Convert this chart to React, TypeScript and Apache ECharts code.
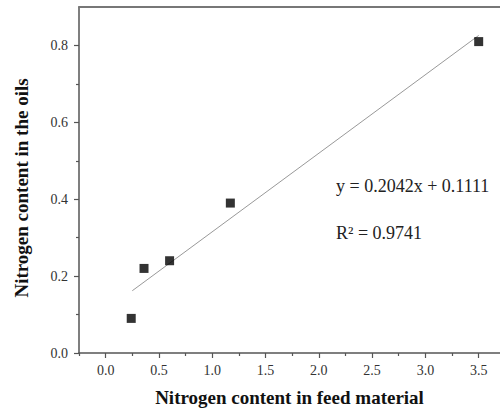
import React, { useEffect, useRef } from "react";
import * as echarts from "echarts";

const feedN = [0.24, 0.36, 0.6, 1.17, 3.5];
const oilN = [0.09, 0.22, 0.24, 0.39, 0.81];
const trendX = [0.25, 3.5];
const trendY = [0.162, 0.826];
const xMajor = [0, 0.5, 1, 1.5, 2, 2.5, 3, 3.5];
const xMinor = [-0.25, 0.25, 0.75, 1.25, 1.75, 2.25, 2.75, 3.25];
const yMajor = [0, 0.2, 0.4, 0.6, 0.8];
const yMinor = [0.1, 0.3, 0.5, 0.7];
const equationText = "y = 0.2042x + 0.1111";
const r2Text = "R\u00B2 = 0.9741";

const serif = "'Liberation Serif', 'Times New Roman', serif";
const axisColor = "#555";

export default function App() {
  const ref = useRef<HTMLDivElement>(null);
  useEffect(() => {
    if (!ref.current) return;
    const chart = echarts.init(ref.current, undefined, { renderer: "svg" });
    const xRange = { min: -0.25, max: 3.7 };
    const yRange = { min: 0, max: 0.9 };
    const tickLabel = (margin: number) => ({
      margin,
      fontFamily: serif,
      fontSize: 14,
      color: "#333",
      formatter: (v: number) => v.toFixed(1),
    });
    chart.setOption({
      animation: false,
      textStyle: { fontFamily: serif },
      grid: { left: 79, top: 7, right: 0, bottom: 60 },
      xAxis: [
        {
          type: "value",
          ...xRange,
          position: "bottom",
          name: "Nitrogen content in feed material",
          nameLocation: "middle",
          nameGap: 35,
          nameTextStyle: { fontFamily: serif, fontWeight: "bold", fontSize: 19, color: "#111" },
          axisLine: { show: true, onZero: false, lineStyle: { color: axisColor, width: 1.5 } },
          axisTick: { show: true, customValues: xMajor, length: 5, lineStyle: { color: axisColor, width: 1.2 } },
          axisLabel: { ...tickLabel(10), customValues: xMajor },
          splitLine: { show: false },
        },
        {
          type: "value",
          ...xRange,
          position: "bottom",
          axisLine: { show: false, onZero: false },
          axisTick: { show: true, customValues: xMinor, length: 3, lineStyle: { color: axisColor, width: 1.2 } },
          axisLabel: { show: false },
          splitLine: { show: false },
        },
        {
          type: "value",
          ...xRange,
          position: "top",
          axisLine: { show: true, onZero: false, lineStyle: { color: "#777", width: 2 } },
          axisTick: { show: false },
          axisLabel: { show: false },
          splitLine: { show: false },
        },
      ],
      yAxis: [
        {
          type: "value",
          ...yRange,
          position: "left",
          name: "Nitrogen content in the oils",
          nameLocation: "middle",
          nameGap: 48,
          nameTextStyle: {
            fontFamily: serif,
            fontWeight: "bold",
            fontSize: 19,
            color: "#111",
            padding: [0, 16, 0, 0],
          },
          axisLine: { show: true, onZero: false, lineStyle: { color: axisColor, width: 1.5 } },
          axisTick: { show: true, customValues: yMajor, length: 5, lineStyle: { color: axisColor, width: 1.2 } },
          axisLabel: { ...tickLabel(11), customValues: yMajor },
          splitLine: { show: false },
        },
        {
          type: "value",
          ...yRange,
          position: "left",
          axisLine: { show: false, onZero: false },
          axisTick: { show: true, customValues: yMinor, length: 3, lineStyle: { color: axisColor, width: 1.2 } },
          axisLabel: { show: false },
          splitLine: { show: false },
        },
      ],
      series: [
        {
          type: "line",
          data: trendX.map((x, i) => [x, trendY[i]]),
          showSymbol: false,
          symbol: "none",
          lineStyle: { color: "#999", width: 1 },
          silent: true,
          z: 1,
        },
        {
          type: "scatter",
          data: feedN.map((x, i) => [x, oilN[i]]),
          symbol: "rect",
          symbolSize: 9,
          itemStyle: { color: "#000" },
          z: 3,
        },
      ],
      graphic: [
        {
          type: "text",
          left: 336,
          top: 177,
          style: { text: equationText, fontFamily: serif, fontSize: 18, fill: "#222" },
        },
        {
          type: "text",
          left: 336,
          top: 224,
          style: { text: r2Text, fontFamily: serif, fontSize: 18, fill: "#222" },
        },
      ],
    });
    return () => chart.dispose();
  }, []);
  return (
    <div
      ref={ref}
      style={{ position: "absolute", left: 0, top: 0, width: 500, height: 413 }}
    />
  );
}
